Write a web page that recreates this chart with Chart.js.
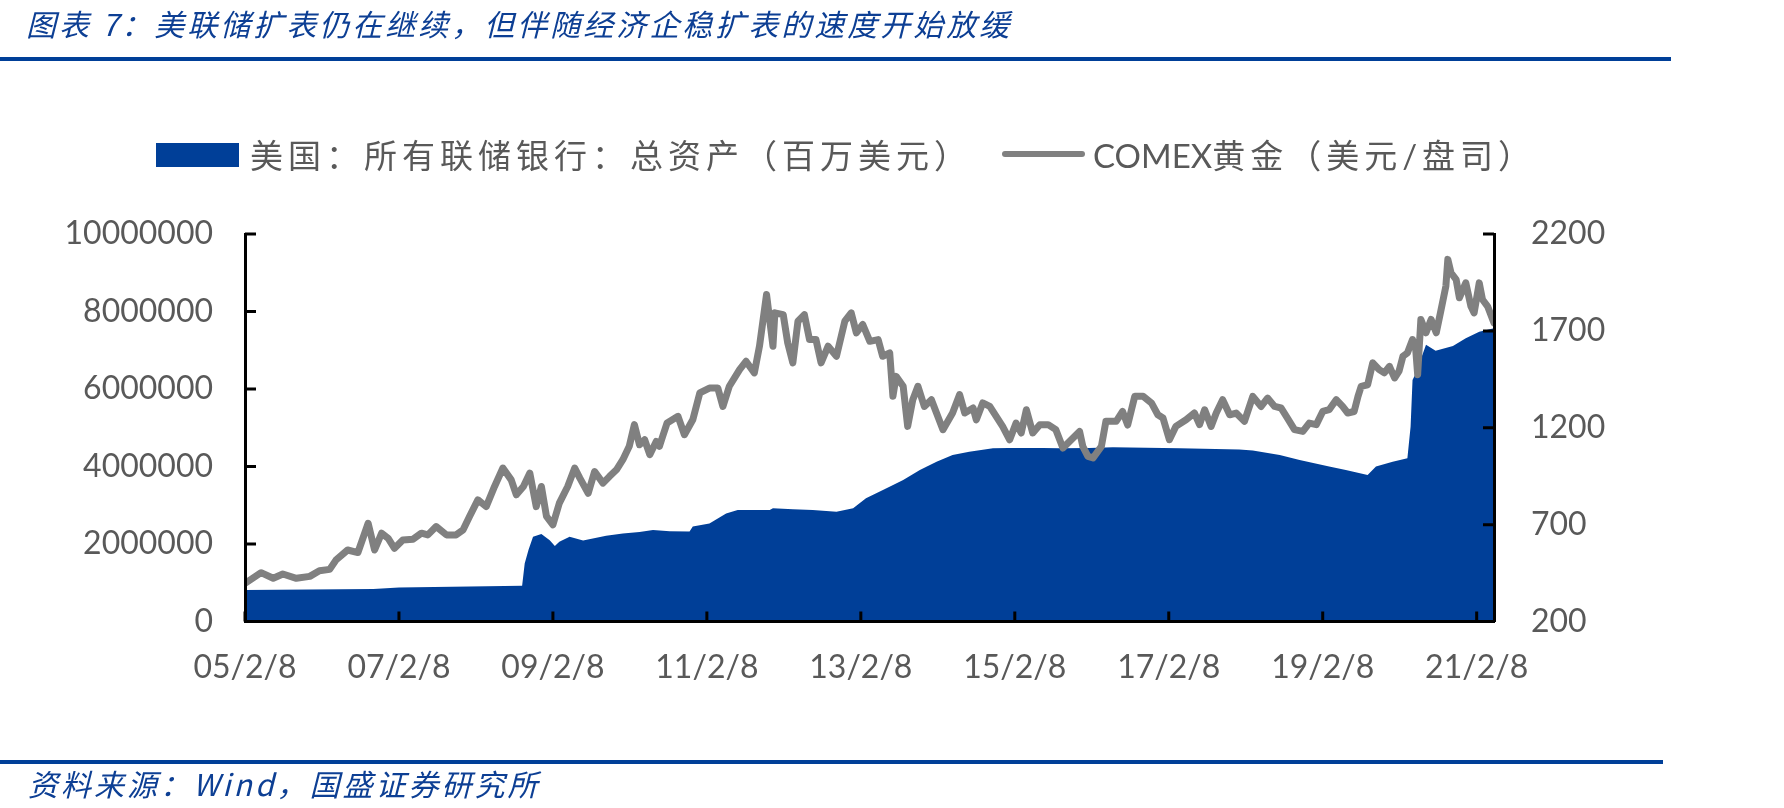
<!DOCTYPE html>
<html lang="zh-CN">
<head>
<meta charset="utf-8">
<title>图表 7</title>
<script src="https://cdn.jsdelivr.net/npm/chart.js@4.4.1/dist/chart.umd.min.js"></script>
<style>
  body { margin: 0; background: #fff; }
  #hoja { position: relative; width: 1784px; height: 808px; overflow: hidden; }
  #grafica { position: absolute; left: 0; top: 0; }
  .cursiva { position: absolute; font-family: "Noto Sans CJK SC", sans-serif; font-style: italic;
             font-size: 30px; line-height: 34px; color: #0D3F94; letter-spacing: 3px; white-space: nowrap; }
  .linea { position: absolute; left: 0; height: 4px; background: #003F98; }
  .leyenda { position: absolute; font-family: Lato, "Noto Sans CJK SC", sans-serif; font-size: 33px;
             line-height: 40px; color: #595959; letter-spacing: 5px; white-space: nowrap; }
  .latin { letter-spacing: 0; }
</style>
</head>
<body>
<div id="hoja">
  <canvas id="grafica" width="1784" height="808"></canvas>

  <div class="cursiva" style="left:26px; top:6px;">图表 7：美联储扩表仍在继续，但伴随经济企稳扩表的速度开始放缓</div>
  <div class="linea" style="top:57px; width:1671px;"></div>

  <!-- leyenda hecha a mano -->
  <div style="position:absolute; left:156px; top:143px; width:83px; height:24px; background:#003F98;"></div>
  <div class="leyenda" style="left:250px; top:135px;">美国：所有联储银行：总资产（百万美元）</div>
  <div style="position:absolute; left:1002px; top:151px; width:83px; height:6px; border-radius:3px; background:#808080;"></div>
  <div class="leyenda" style="left:1093px; top:135px;"><span class="latin">COMEX</span>黄金（美元/盘司）</div>

  <div class="linea" style="top:760px; width:1663px;"></div>
  <div class="cursiva" style="left:28px; top:766px;">资料来源：Wind，国盛证券研究所</div>
</div>

<script>
// Eje X: meses contados desde el 8/2/2005
var posicionesX = [0, 24, 48, 72, 96, 120, 144, 168, 192];
var etiquetasX = ['05/2/8', '07/2/8', '09/2/8', '11/2/8', '13/2/8', '15/2/8', '17/2/8', '19/2/8', '21/2/8'];
var finX = 194.7;

// Activos totales de la Fed (millones de dólares)
var mesesFed = [0, 20, 24, 43.2, 43.6, 44.2, 44.9, 46.2, 47.5, 48.3, 49, 50.6, 52.7, 56.3, 58.9, 61.5, 63.6,
  66.2, 69.3, 69.8, 72.4, 75, 76.8, 81.8, 82.3, 85.4, 88.5, 92.2, 94.8, 96.8, 100, 102.6, 105.2, 107.8,
  110.3, 112.9, 116.6, 119, 124.4, 127, 131.6, 135.3, 145.7, 155, 157.1, 161.3, 164.4, 169, 171.6, 175,
  176.3, 178.9, 181.2, 181.7, 182, 182.5, 184.1, 185.6, 188.3, 190.3, 192.4, 194.7];
var activosFed = [810000, 840000, 880000, 925000, 1500000, 1850000, 2190000, 2260000, 2100000, 1950000,
  2060000, 2190000, 2090000, 2210000, 2270000, 2310000, 2360000, 2330000, 2320000, 2450000, 2530000,
  2790000, 2880000, 2880000, 2920000, 2900000, 2880000, 2830000, 2920000, 3180000, 3440000, 3650000,
  3910000, 4120000, 4300000, 4380000, 4470000, 4480000, 4480000, 4470000, 4480000, 4500000, 4470000,
  4440000, 4410000, 4300000, 4170000, 4000000, 3910000, 3780000, 4000000, 4120000, 4210000, 5030000,
  6230000, 6400000, 7140000, 6990000, 7110000, 7310000, 7480000, 7570000];

// Oro COMEX (dólares por onza)
var mesesOro = [0, 2.5, 4.4, 5.9, 8, 10.1, 11.6, 13.2, 14.2, 16, 17.6, 19.2, 20.2, 21.3, 22.3, 23.3, 24.6,
  26.2, 27.5, 28.5, 29.8, 31.4, 32.9, 34, 35, 36.3, 37.6, 38.9, 40.2, 41.5, 42.3, 43.4, 44.4, 45.4, 46.2,
  47, 48, 49, 50.3, 51.4, 52.2, 53.5, 54.5, 55.8, 56.8, 57.9, 58.9, 59.9, 60.7, 61.5, 62.3, 63.1, 64.1,
  64.6, 65.1, 65.8, 67.5, 68.5, 69.8, 70.9, 72.4, 73.7, 74.5, 75.5, 77.1, 78.1, 79.4, 80.2, 81.3, 82.3,
  82.6, 83.9, 84.6, 85.4, 86.2, 87.2, 88, 89, 89.8, 90.9, 92.2, 93.5, 94.5, 95.3, 96.3, 97.4, 98.7, 99.4,
  100.5, 101, 101.5, 102.6, 103.3, 104.1, 104.9, 105.9, 107, 108.8, 110.3, 111.4, 112.2, 113.5, 114, 115,
  116.1, 117.1, 118.1, 119.2, 120.2, 121, 121.8, 122.8, 123.9, 125.2, 126.4, 127.5, 128.8, 130.1, 130.6,
  131.4, 132.2, 133.5, 134.2, 135.8, 136.8, 137.6, 138.7, 140, 141.3, 142.3, 143.1, 144.1, 145.1, 146.7,
  148, 148.8, 149.6, 150.6, 151.4, 152.4, 153.5, 154.5, 155.8, 157.1, 158.4, 159.4, 160.5, 161.5, 162.5,
  163.6, 164.9, 165.9, 167, 168, 169, 170.1, 171.1, 171.9, 172.9, 173.5, 174, 175, 175.8, 176.8, 177.6,
  178.4, 179.2, 179.9, 180.5, 181.2, 182, 182.5, 182.8, 183.3, 184.1, 184.9, 185.7, 186.4, 187.2, 187.5,
  188, 188.8, 189.3, 190.3, 191.1, 191.6, 192.4, 192.9, 193.7, 194.7];
var preciosOro = [397, 452, 423, 445, 423, 433, 462, 469, 518, 569, 556, 707, 569, 656, 630, 578, 621,
  625, 656, 647, 690, 647, 647, 673, 742, 828, 793, 897, 992, 931, 854, 897, 966, 793, 897,
  742, 699, 811, 897, 992, 940, 862, 974, 914, 948, 983, 1035, 1104, 1216, 1112, 1138, 1061, 1129,
  1104, 1155, 1225, 1259, 1164, 1241, 1380, 1405, 1405, 1310, 1414, 1500, 1543, 1483, 1621, 1888, 1621,
  1793, 1784, 1638, 1535, 1750, 1784, 1655, 1655, 1535, 1621, 1569, 1750, 1793, 1690, 1733, 1646, 1655, 1569,
  1586, 1362, 1465, 1414, 1207, 1345, 1414, 1310, 1345, 1190, 1276, 1371, 1276, 1302, 1241, 1328,
  1310, 1259, 1207, 1138, 1224, 1173, 1293, 1173, 1216, 1216, 1190, 1095, 1138, 1181, 1104,
  1052, 1044, 1104, 1233, 1233, 1284, 1214, 1362, 1362, 1328, 1267, 1250, 1138, 1207, 1241,
  1276, 1216, 1293, 1207, 1276, 1345, 1267, 1276, 1233, 1362, 1310, 1353, 1310, 1302, 1250,
  1190, 1181, 1224, 1216, 1284, 1293, 1345, 1310, 1276, 1284, 1362, 1414, 1422, 1535, 1500, 1483,
  1517, 1457, 1492, 1569, 1586, 1655, 1603, 1474, 1759, 1690, 1759, 1690, 1801, 1931, 2069,
  2000, 1965, 1871, 1948, 1827, 1793, 1948, 1862, 1827, 1741];

// Marcas de los ejes hacia dentro, dibujadas encima del área
var marcasInternas = {
  id: 'marcasInternas',
  afterDatasetsDraw: function (grafico) {
    var ctx = grafico.ctx;
    var area = grafico.chartArea;
    var ex = grafico.scales.x, iz = grafico.scales.y, de = grafico.scales.y1;
    ctx.save();
    ctx.strokeStyle = '#000';
    ctx.lineWidth = 3;
    ctx.beginPath();
    ex.ticks.forEach(function (t) {
      var px = ex.getPixelForValue(t.value);
      ctx.moveTo(px, area.bottom);
      ctx.lineTo(px, area.bottom - 10);
    });
    iz.ticks.forEach(function (t) {
      var py = iz.getPixelForValue(t.value);
      ctx.moveTo(area.left, py);
      ctx.lineTo(area.left + 11, py);
    });
    de.ticks.forEach(function (t) {
      var py = de.getPixelForValue(t.value);
      ctx.moveTo(area.right, py);
      ctx.lineTo(area.right - 11, py);
    });
    ctx.stroke();
    ctx.restore();
  }
};

function aPuntos(xs, ys) {
  return xs.map(function (x, i) { return { x: x, y: ys[i] }; });
}

var fuenteEjes = { family: 'Lato', size: 32 };
// la rejilla se dibuja antes (z por defecto) para que el borde sepa dónde va;
// el borde va encima del área (z: 1)
var rejilla = { display: true, drawOnChartArea: false, drawTicks: false };
var borde = { display: true, color: '#000', width: 3, z: 1 };

new Chart(document.getElementById('grafica').getContext('2d'), {
  type: 'line',
  data: {
    datasets: [{
      label: 'COMEX黄金（美元/盘司）',
      data: aPuntos(mesesOro, preciosOro),
      yAxisID: 'y1',
      borderColor: '#808080',
      borderWidth: 7,
      borderJoinStyle: 'round',
      borderCapStyle: 'round',
      pointRadius: 0,
      tension: 0,
      fill: false,
      order: 0
    }, {
      label: '美国：所有联储银行：总资产（百万美元）',
      data: aPuntos(mesesFed, activosFed),
      yAxisID: 'y',
      borderWidth: 0,
      backgroundColor: '#003F98',
      pointRadius: 0,
      tension: 0,
      fill: 'origin',
      order: 1
    }]
  },
  options: {
    responsive: false,
    animation: false,
    layout: { padding: { top: 234, left: 0, right: 0, bottom: 0 } },
    plugins: { legend: { display: false }, tooltip: { enabled: false } },
    scales: {
      x: {
        type: 'linear',
        min: 0,
        max: finX,
        afterBuildTicks: function (escala) {
          escala.ticks = posicionesX.map(function (v) { return { value: v }; });
        },
        afterFit: function (escala) { escala.height = 186.5; },
        grid: rejilla,
        border: borde,
        ticks: {
          autoSkip: false, maxRotation: 0, padding: 27, color: '#595959', font: fuenteEjes,
          callback: function (valor, indice) { return etiquetasX[indice]; }
        }
      },
      y: {
        position: 'left',
        min: 0,
        max: 10000000,
        afterFit: function (escala) { escala.width = 245; },
        grid: rejilla,
        border: borde,
        ticks: {
          stepSize: 2000000, padding: 32, color: '#595959', font: fuenteEjes,
          callback: function (valor) { return String(valor); }
        }
      },
      y1: {
        position: 'right',
        min: 200,
        max: 2200,
        afterFit: function (escala) { escala.width = 290; },
        grid: rejilla,
        border: borde,
        ticks: {
          stepSize: 500, padding: 37, color: '#595959', font: fuenteEjes,
          callback: function (valor) { return String(valor); }
        }
      }
    }
  },
  plugins: [marcasInternas]
});
</script>
</body>
</html>
